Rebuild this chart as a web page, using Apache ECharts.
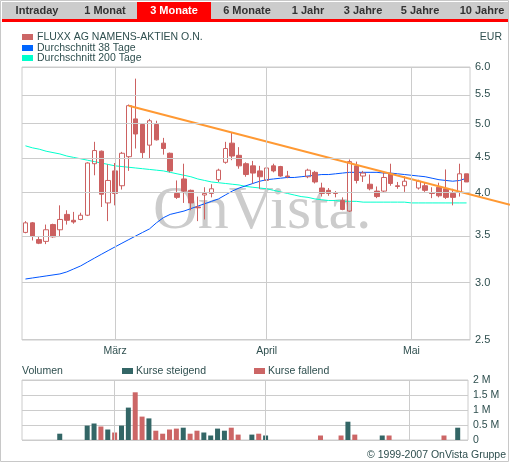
<!DOCTYPE html>
<html><head><meta charset="utf-8">
<script src="https://cdn.jsdelivr.net/npm/echarts@6/dist/echarts.min.js"></script>
<style>html,body{margin:0;padding:0;background:#fff}#c{width:510px;height:463px}</style>
</head><body><div id="c"></div>
<script>
const dates = ['02-12','02-13','02-14','02-15','02-16','02-19','02-20','02-21','02-22','02-23','02-26','02-27','02-28',
'03-01','03-02','03-05','03-06','03-07','03-08','03-09','03-12','03-13','03-14','03-15','03-16','03-19','03-20','03-21','03-22','03-23','03-26','03-27','03-28','03-29','03-30',
'04-02','04-03','04-04','04-05','04-06','04-09','04-10','04-11','04-12','04-13','04-16','04-17','04-18','04-19','04-20','04-23','04-24','04-25','04-26','04-27','04-30',
'05-01','05-02','05-03','05-04','05-07','05-08','05-09','05-10','05-11'];
const monthLabels = {13:'März',35:'April',56:'Mai'};
// [open, close, low, high]
const ohlc = [
[3.53,3.64,3.52,3.66],[3.64,3.49,3.44,3.65],[3.45,3.41,3.40,3.49],[3.43,3.56,3.40,3.62],[3.62,3.48,3.47,3.63],
[3.56,3.68,3.49,3.85],[3.74,3.67,3.62,3.79],[3.67,3.65,3.63,3.77],[3.68,3.73,3.67,3.76],[3.73,4.41,3.72,4.42],
[4.40,4.59,4.24,4.72],[4.58,3.99,3.83,4.59],[3.88,4.17,3.66,4.39],[4.30,4.00,3.85,4.41],[4.10,4.55,4.05,4.57],
[4.50,5.30,4.30,5.32],[5.08,4.84,4.62,5.78],[4.99,4.56,4.48,5.00],[4.67,5.05,4.48,5.08],[4.99,4.75,4.74,5.05],
[4.70,4.62,4.53,4.78],[4.55,4.30,4.28,4.56],[4.00,3.95,3.93,4.17],[4.19,4.03,3.88,4.40],[4.04,3.88,3.79,4.05],
[3.83,3.82,3.66,3.96],[3.98,4.00,3.68,4.08],[4.00,4.06,3.95,4.12],[4.18,4.31,4.15,4.33],[4.42,4.62,4.40,4.72],
[4.70,4.51,4.45,4.87],[4.52,4.37,4.33,4.64],[4.40,4.25,4.22,4.42],[4.37,4.27,4.13,4.44],[4.30,4.22,4.06,4.37],
[4.17,4.34,4.15,4.44],[4.37,4.30,4.28,4.40],[4.36,4.23,4.22,4.37],[4.23,4.22,4.20,4.30],null,null,
[4.22,4.31,4.20,4.33],[4.28,4.15,4.13,4.30],[4.07,4.00,3.96,4.14],[4.04,4.00,3.97,4.07],[4.01,4.00,3.95,4.03],
[3.91,3.80,3.79,3.95],[3.78,4.43,3.77,4.46],[4.37,4.17,4.13,4.43],[4.23,4.27,4.15,4.30],[4.12,4.06,4.04,4.25],
[4.03,3.96,3.94,4.09],[4.03,4.21,4.01,4.28],[4.26,4.13,4.10,4.40],[4.10,4.09,4.06,4.15],[4.10,4.16,4.02,4.23],null,
[4.07,4.16,4.05,4.18],[4.10,4.04,4.02,4.14],[4.01,4.00,3.94,4.08],[4.08,3.97,3.95,4.14],[4.06,3.95,3.93,4.32],
[4.00,3.95,3.85,4.06],[4.02,4.26,3.96,4.40],[4.26,4.15,4.15,4.26]];
const ma38 = [3.04,3.05,3.06,3.07,3.08,3.09,3.11,3.14,3.17,3.21,3.25,3.29,3.33,3.37,3.41,3.45,3.49,3.53,3.57,3.64,
3.70,3.74,3.76,3.78,3.81,3.84,3.87,3.90,3.93,3.98,4.03,4.07,4.10,4.13,4.16,4.18,4.19,4.20,4.21,4.21,
4.22,4.23,4.24,4.25,4.25,4.26,4.27,4.28,4.28,4.28,4.28,4.28,4.27,4.27,4.26,4.25,4.24,4.23,4.22,4.20,
4.18,4.17,4.16,4.17,4.20];
const ma200 = [4.66,4.63,4.61,4.58,4.56,4.54,4.51,4.49,4.47,4.45,4.43,4.41,4.39,4.37,4.36,4.35,4.34,4.33,4.32,4.31,
4.30,4.28,4.26,4.24,4.22,4.19,4.17,4.15,4.14,4.13,4.12,4.11,4.09,4.08,4.07,4.06,4.04,4.02,4.00,3.98,
3.96,3.95,3.93,3.92,3.91,3.91,3.90,3.90,3.90,3.89,3.89,3.89,3.89,3.89,3.89,3.89,3.88,3.88,3.88,3.88,
3.88,3.88,3.88,3.88,3.88];
const volUp = [0,0,0,0,0,0.21,0,0,0,0.48,0.55,0,0.35,0,0.48,1.08,0,0,0.72,0,
0,0,0,0.41,0,0,0.25,0.15,0.38,0.31,0,0,0,0.18,0,0.15,0,0,0,0,
0,0,0,0,0,0,0,0.61,0,0,0,0,0.15,0,0,0,0,0,0,0,0,0,0,0.41,0];
const volDown = [0,0,0,0,0,0,0,0,0,0,0,0.45,0,0.25,0,0,1.59,0.78,0,0.31,
0.21,0.35,0.38,0,0.21,0.31,0,0,0,0,0.41,0.18,0,0,0.21,0,0,0,0,0,
0,0,0,0.15,0,0,0.15,0,0.18,0,0,0,0,0.15,0,0,0,0,0,0,0,0.15,0,0,0];
const priceTicks = [2.5,3.0,3.5,4.0,4.5,5.0,5.5,6.0];
const volTickLabels = ['0','0.5 M','1 M','1.5 M','2 M'];
const trendStart = [15, 5.30], trendEnd = [64, 4.00];
const tabs = ['Intraday','1 Monat','3 Monate','6 Monate','1 Jahr','3 Jahre','5 Jahre','10 Jahre'];
const tabCenters = [37,105,174,247,308,363,420,482];
const activeTab = 2;

const RED='#cc6161', TEXT='#2f4f4f', GRID='#cccccc';
const FONT = '10.5px "Liberation Sans", Arial';
const L = Math.log;
const chart = echarts.init(document.getElementById('c'));
const gfx = [];
gfx.push({type:'rect',shape:{x:0.5,y:0.5,width:508,height:461},style:{fill:'none',stroke:'#c8c8c8'},z:0});
gfx.push({type:'rect',shape:{x:2,y:2,width:506,height:18},style:{fill:'#cccccc'}});
gfx.push({type:'rect',shape:{x:137,y:2,width:74,height:18},style:{fill:'#ff0000'}});
tabs.forEach((t,i)=>{
  gfx.push({type:'text',x:tabCenters[i],y:11,style:{text:t,fill:i===activeTab?'#fff':'#333',font:'bold 11px "Liberation Sans", Arial',align:'center',verticalAlign:'middle'}});
});
gfx.push({type:'rect',shape:{x:2,y:19,width:506,height:3},style:{fill:'#ff0000'}});
[['FLUXX AG NAMENS-AKTIEN O.N.','#cc6666',37],['Durchschnitt 38 Tage','#0066ff',48],['Durchschnitt 200 Tage','#00ffcc',58]].forEach(([t,c,y])=>{
  gfx.push({type:'rect',shape:{x:22,y:y-3,width:11,height:6},style:{fill:c}});
  gfx.push({type:'text',x:37,y:y,style:{text:t,fill:TEXT,font:FONT,verticalAlign:'middle'}});
});
gfx.push({type:'text',x:502,y:37,style:{text:'EUR',fill:TEXT,font:FONT,align:'right',verticalAlign:'middle'}});
gfx.push({type:'text',x:22,y:371,style:{text:'Volumen',fill:TEXT,font:FONT,verticalAlign:'middle'}});
gfx.push({type:'rect',shape:{x:122,y:368,width:11,height:6},style:{fill:'#336666'}});
gfx.push({type:'text',x:136,y:371,style:{text:'Kurse steigend',fill:TEXT,font:FONT,verticalAlign:'middle'}});
gfx.push({type:'rect',shape:{x:254,y:368,width:11,height:6},style:{fill:'#cc6666'}});
gfx.push({type:'text',x:268,y:371,style:{text:'Kurse fallend',fill:TEXT,font:FONT,verticalAlign:'middle'}});
gfx.push({type:'text',x:506,y:455,style:{text:'© 1999-2007 OnVista Gruppe',fill:TEXT,font:FONT,align:'right',verticalAlign:'middle'}});
gfx.push({type:'text',x:153,y:212,z:-1,style:{text:'OnVista.',fill:'#cccccc',font:'62px "Liberation Serif", "DejaVu Serif", serif',verticalAlign:'middle'}});

const priceGridLines = priceTicks.map(v=>({yAxis:L(v)}));
const monthLines = Object.keys(monthLabels).map(k=>({xAxis:dates[+k]}));

chart.setOption({
  animation:false,
  grid:[{left:22,width:448,top:67,height:273,show:true,borderColor:GRID,borderWidth:1,z:0},
        {left:22,width:446,top:380,height:60,show:true,borderColor:GRID,borderWidth:1}],
  xAxis:[
    {type:'category',gridIndex:0,data:dates,boundaryGap:true,axisLine:{show:false},axisTick:{show:false},splitLine:{show:false},
     axisLabel:{interval:(i)=>monthLabels[i]!==undefined,formatter:(v,i)=>monthLabels[i]||'',color:TEXT,fontSize:10.5,fontFamily:'Liberation Sans',margin:6}},
    {type:'category',gridIndex:1,data:dates,boundaryGap:true,axisLine:{show:false},axisTick:{show:false},axisLabel:{show:false},splitLine:{show:false}}
  ],
  yAxis:[
    {type:'value',gridIndex:0,position:'right',min:L(2.5),max:L(6),axisLine:{show:false},axisTick:{show:false},splitLine:{show:false},
     axisLabel:{customValues:priceTicks.map(L),formatter:v=>Math.exp(v).toFixed(1),color:TEXT,fontSize:11,fontFamily:'Liberation Sans',margin:5}},
    {type:'value',gridIndex:1,position:'right',min:0,max:2,interval:0.5,axisLine:{show:false},axisTick:{show:false},
     splitLine:{show:true,lineStyle:{color:GRID}},
     axisLabel:{formatter:(v)=>volTickLabels[Math.round(v*2)],color:TEXT,fontSize:10.5,fontFamily:'Liberation Sans',margin:5}}
  ],
  graphic:gfx,
  series:[
    {type:'line',xAxisIndex:0,yAxisIndex:0,data:[],silent:true,
     markLine:{symbol:'none',silent:true,label:{show:false},lineStyle:{color:GRID,width:1,type:'solid'},data:priceGridLines.concat(monthLines)},z:1},
    {type:'line',xAxisIndex:1,yAxisIndex:1,data:[],silent:true,
     markLine:{symbol:'none',silent:true,label:{show:false},lineStyle:{color:GRID,width:1,type:'solid'},data:monthLines},z:1},
    {type:'line',xAxisIndex:0,yAxisIndex:0,data:ma200.map(L),showSymbol:false,lineStyle:{color:'#00ffcc',width:1},z:3},
    {type:'line',xAxisIndex:0,yAxisIndex:0,data:ma38.map(L),showSymbol:false,lineStyle:{color:'#0055ff',width:1},z:3},
    {type:'candlestick',xAxisIndex:0,yAxisIndex:0,barWidth:5,z:4,
     data:ohlc.map(d=>d?d.map(L):'-'),
     itemStyle:{color:'rgba(255,255,255,0)',color0:RED,borderColor:RED,borderColor0:RED,borderWidth:1}},
    {type:'bar',xAxisIndex:1,yAxisIndex:1,barWidth:5,barGap:'-100%',data:volUp.map(v=>v||null),itemStyle:{color:'#336666'}},
    {type:'bar',xAxisIndex:1,yAxisIndex:1,barWidth:5,barGap:'-100%',data:volDown.map(v=>v||null),itemStyle:{color:'#cc6666'}}
  ]
});
const p1 = chart.convertToPixel({xAxisIndex:0,yAxisIndex:0},[dates[trendStart[0]],L(trendStart[1])]);
const p2 = chart.convertToPixel({xAxisIndex:0,yAxisIndex:0},[dates[trendEnd[0]],L(trendEnd[1])]);
const slope = (p2[1]-p1[1])/(p2[0]-p1[0]);
const xEnd = 510;
chart.setOption({graphic:gfx.concat([{type:'line',z:5,shape:{x1:p1[0],y1:p1[1],x2:xEnd,y2:p1[1]+slope*(xEnd-p1[0])},style:{stroke:'#ff9933',lineWidth:2}}])});
</script></body></html>
